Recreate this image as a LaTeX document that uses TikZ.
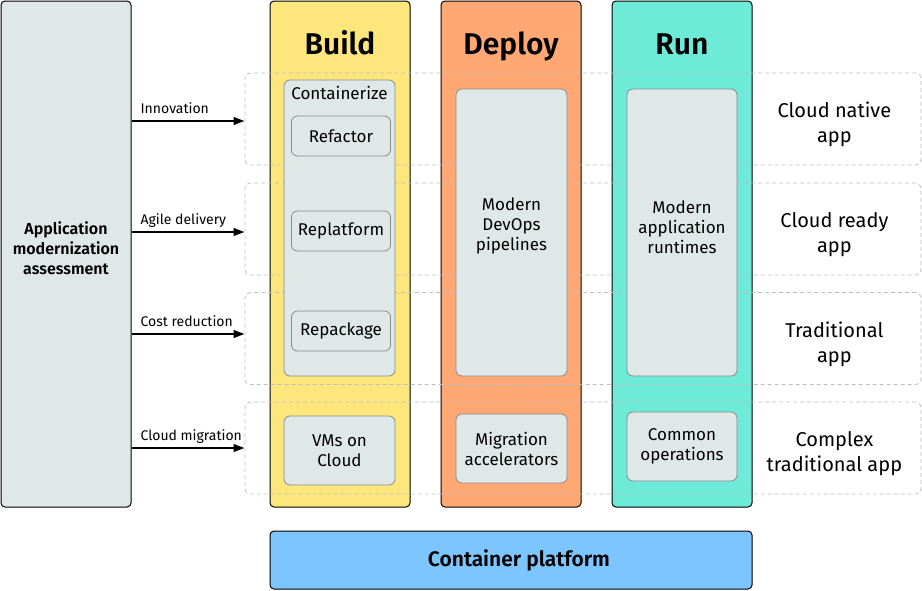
\documentclass[tikz,border=0pt]{standalone}
\usepackage{fontspec}
\setmainfont{Fira Sans}[BoldFont={* SemiBold}]
\newfontfamily\medfont{Fira Sans}
\usepackage{tikz}
\usetikzlibrary{
  arrows.meta,
  positioning,  % Function "of" (e.g. [below=of x])
  calc,         % Calculations $...$
}
\definecolor{boxgray}{HTML}{E0E7E7}
\definecolor{buildyellow}{HTML}{FDE67B}
\definecolor{deployorange}{HTML}{FFA873}
\definecolor{runteal}{HTML}{6EEAD8}
\definecolor{platformblue}{HTML}{7DC5FE}
\definecolor{rowgray}{HTML}{BBBFC2}
\definecolor{innergray}{HTML}{888C8E}
\def\mycolw{140pt}
\def\mycolh{506pt}
\def\myinw{111pt}
\def\myrowh{92pt}
\tikzset{
  modernize/.style={
    x=1pt,
    y=-1pt,
    >={Triangle[length=11pt,width=7.5pt]}
  },
  my column/.style={
    draw,
    line width=1pt,
    rounded corners=4pt,
    minimum width=\mycolw,
    minimum height=\mycolh,
    inner sep=0pt
  },
  my title/.style={
    font=\bfseries\fontsize{30}{34}\selectfont,
    anchor=base,
    inner sep=0pt
  },
  my row/.style={
    draw=rowgray,
    dash pattern=on 4pt off 3pt,
    line width=0.8pt,
    rounded corners=5pt,
    minimum width=676pt,
    minimum height=\myrowh
  },
  my box/.style={
    draw=innergray,
    fill=boxgray,
    line width=0.8pt,
    rounded corners=6pt,
    minimum width=\myinw,
    align=center,
    font=\medfont\fontsize{17}{20}\selectfont,
    inner sep=0pt
  },
  my step/.style={
    my box,
    minimum width=99pt,
    minimum height=40pt
  },
  my app/.style={
    align=center,
    font=\medfont\fontsize{20}{25}\selectfont
  },
  my flow/.style={
    ->,
    line width=2.2pt
  },
  my flow label/.style={
    anchor=base west,
    font=\fontsize{14}{16}\selectfont,
    inner sep=0pt
  }
}

\begin{document}
\begin{tikzpicture}[modernize]
\useasboundingbox (0,0) rectangle (922,590);
% columns
\node[my column, fill=boxgray, minimum width=130pt] (assess) at (66,254) {};
\node[my column, fill=buildyellow] (build) at (340,254) {};
\node[my column, fill=deployorange] (deploy) at (511,254) {};
\node[my column, fill=runteal] (run) at (682,254) {};
\node[my column, fill=platformblue, minimum width=482pt, minimum height=58pt] (platform) at (511,560) {};
\node[font=\bfseries\fontsize{21}{24}\selectfont] (platformT) at (519,560) {Container platform};
\node[font=\bfseries\fontsize{16}{20}\selectfont, align=center] (assessT) at (66,248)
  {Application\\modernization\\assessment};
\path (build.north) ++(0,54) node[my title] (buildT) {Build};
\path (deploy.north) ++(0,54) node[my title] (deployT) {Deploy};
\path (run.north) ++(0,54) node[my title] (runT) {Run};
% dashed rows
\foreach \r/\y in {A/119,B/229,C/338.5,D/448}
  \node[my row] (row\r) at (583,\y) {};
% inner boxes
\node[my box, minimum height=296pt] (ctr) at (339.5,228) {};
\path (ctr.north) ++(0,20) node[anchor=base, inner sep=0pt, font=\medfont\fontsize{17}{20}\selectfont] (ctrT) {Containerize};
\node[my step] (refactor) at (341,136) {Refactor};
\node[my step] (replatform) at (341,231) {Replatform};
\node[my step] (repackage) at (341,331) {Repackage};
\node[my box, minimum height=69pt] (vms) at (339.5,450.5) {VMs on\\Cloud};
\node[my box, minimum height=287pt] (devops) at (511.5,232.5) {};
\node[align=center, font=\medfont\fontsize{17}{20}\selectfont] (devopsT) at (511.5,226) {Modern\\DevOps\\pipelines};
\node[my box, minimum height=69pt] (migr) at (511.5,448.5) {Migration\\accelerators};
\node[my box, minimum height=287pt, minimum width=110pt] (runtimes) at (682,232.5) {};
\node[align=center, font=\medfont\fontsize{17}{20}\selectfont] (runtimesT) at (682,227) {Modern\\application\\runtimes};
\node[my box, minimum height=69pt, minimum width=110pt] (common) at (682,446.5) {Common\\operations};
% app types
\node[my app] (appA) at ($(rowA.east)+(-87,5.5)$) {Cloud native\\app};
\node[my app] (appB) at ($(rowB.east)+(-87,5.5)$) {Cloud ready\\app};
\node[my app] (appC) at ($(rowC.east)+(-87,6)$) {Traditional\\app};
\node[my app] (appD) at ($(rowD.east)+(-87,5.5)$) {Complex\\traditional app};
% drivers
\foreach \r/\d/\t in {A/2/Innovation,B/3/Agile delivery,C/-4.5/Cost reduction,D/0/Cloud migration}
  \draw[my flow] ($(assess.east |- row\r.west)+(0,\d)$) -- ($(row\r.west)+(0,\d)$)
    node[my flow label, pos=0, xshift=8pt, yshift=8pt] {\t};
\end{tikzpicture}
\end{document}
